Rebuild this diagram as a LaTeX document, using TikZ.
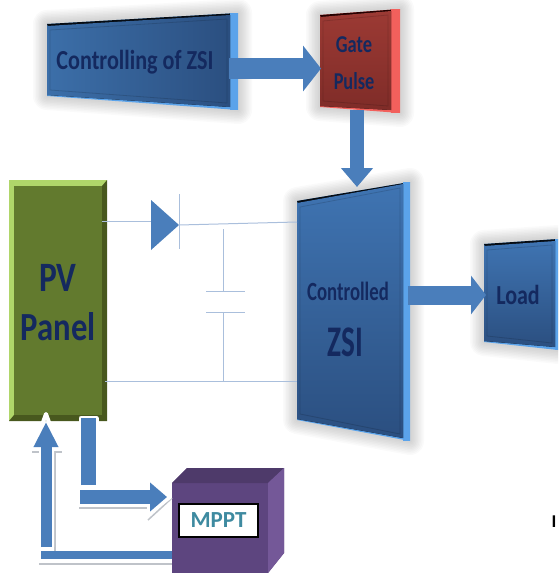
\documentclass[tikz,border=0pt]{standalone}
\usepackage{fontspec}
\usepackage{graphicx}
\setmainfont{Carlito}
\usetikzlibrary{arrows.meta}
\definecolor{navy}{HTML}{14295F}
\definecolor{arrowblue}{HTML}{4A7EBB}
\definecolor{wire}{HTML}{AABFDC}
\definecolor{skyb}{HTML}{5BA3EA}
\definecolor{blueA}{HTML}{3C6FA9}
\definecolor{blueB}{HTML}{2B4F80}
\definecolor{blueC}{HTML}{3F74B2}
\definecolor{haloG}{HTML}{BFC3C9}
\definecolor{gateA}{HTML}{9C3A34}
\definecolor{gateB}{HTML}{7F2C28}
\definecolor{gateL}{HTML}{F2605C}
\tikzset{
  x=1pt,y=-1pt,
  label text/.style={font=\bfseries,text=navy,inner sep=0pt,align=center},
  wireline/.style={draw=wire,line width=1pt},
  fat arrow/.style n args={3}{draw=arrowblue,line width=#1pt,
     -{Triangle[width=#2pt,length=#3pt,fill=arrowblue]}},
  fat bar/.style={draw=arrowblue,line width=#1pt},
}
\newcommand{\lbl}[4]{\scalebox{#2}[#3]{\fontsize{#1}{#1}\selectfont\bfseries #4}}
% name, x1, yTL, yTR, x2, yBL, yBR, right-bevel, unused, then {face}{light}{dark}
\newcommand{\bevelbox}[9]{%
  \def\nm{#1}\def\xa{#2}\def\ya{#3}\def\yb{#4}\def\xb{#5}\def\yc{#6}\def\yd{#7}\def\rb{#8}%
  \bevelboxB}
\newcommand{\bevelboxB}[3]{%
  \foreach \w in {28,25,22,19,16,13,10,7,4}
    \draw[line width=\w pt,black,opacity=.018,line join=round]
      (\xa,\ya)--(\xb,\yb)--(\xb,\yd)--(\xa,\yc)--cycle;
  \fill[#2] (\xa,\ya)--(\xb,\yb)--(\xb,\yd)--(\xa,\yc)--cycle;
  \fill[#3] (\xa,\ya)--(\xb,\yb)--({\xb-\rb},{\yb+3})--(\xa+1,\ya+3)--cycle;
  \fill[#2] ({\xb-\rb},\yb)--(\xb,\yb)--(\xb,\yd)--({\xb-\rb},\yd)--cycle;
  \fill[#1] (\xa,\ya+2)--({\xb-\rb},\yb+2)--({\xb-\rb},{\yd-3})--(\xa,\yc-1)--cycle;
  \draw[black,opacity=.14,line width=.8pt] (\xa+3,\ya+6)--({\xb-\rb-3},\yb+6)--({\xb-\rb-3},{\yd-7})--(\xa+3,\yc-6)--cycle;
  \coordinate (\nm-w) at (\xa,{(\ya+\yc)/2});
  \coordinate (\nm-e) at (\xb,{(\yb+\yd)/2});
}
\begin{document}
\begin{tikzpicture}
\useasboundingbox (0,0) rectangle (558,573);
\clip (0,0) rectangle (558,573);

% blocks
\bevelbox{ctl}{47}{24}{13}{238}{96}{110}{8}{x}{left color=blueA,right color=blueB}{skyb}{black!85!blueB}
\bevelbox{gate}{320}{15}{9}{400}{107}{113}{9}{x}{top color=gateA,bottom color=gateB}{gateL}{black!85!red}
\bevelbox{zsi}{297}{201}{182}{410}{420}{441}{7}{x}{top color=blueC,bottom color=blueB}{skyb}{black!85!blueB}
\bevelbox{load}{484}{244}{239}{558}{342}{350}{3}{x}{top color=blueC,bottom color=blueB}{skyb}{black!85!blueB}

% PV panel
\fill[color={rgb,255:red,176;green,214;blue,106}] (9,180) rectangle (107,421);
\fill[color={rgb,255:red,72;green,88;blue,30}] (102,186)--(107,180)--(107,421)--(9,421)--(14,415)--(102,415)--cycle;
\fill[color={rgb,255:red,98;green,122;blue,46}] (14,186) rectangle (102,415);
\node[label text] (pvA) at (58,278) {\lbl{38}{.88}{1.1}{PV}};
\node[label text] (pvB) at (58,327) {\lbl{38}{.86}{1.05}{Panel}};
\coordinate (pv-a) at (102,221);
\coordinate (pv-b) at (105,381);
\coordinate (pv-out) at (88,418);
\coordinate (pv-in) at (46,422);

% MPPT cube
\fill[color={rgb,255:red,93;green,69;blue,127}] (172,483)--(187,468)--(284,468)--(284,553)--(268,573)--(172,573)--cycle;
\fill[color={rgb,255:red,78;green,58;blue,106}] (172,483)--(187,468)--(284,468)--(268,483)--cycle;
\fill[color={rgb,255:red,116;green,88;blue,152}] (268,483)--(284,468)--(284,553)--(268,573)--cycle;
\node[draw=black,line width=1.2pt,fill=white,minimum width=79pt,minimum height=33pt,inner sep=0pt,
  font=\bfseries\fontsize{23}{23}\selectfont,text={rgb,255:red,62;green,138;blue,160}] (mppt) at (218.5,520.5) {MPPT};
\coordinate (mppt-in) at (167,497);
\coordinate (mppt-out) at (172,555);

% circuit
\coordinate (dA) at (151,221);
\coordinate (dK) at (179,225);
\coordinate (zA) at (297,222);
\coordinate (zB) at (297,381);
\coordinate (capT) at (223,229);
\coordinate (capB) at (223,381);
\coordinate (p1) at (223,291);
\coordinate (p2) at (223,312);
\draw[wireline] (pv-a) -- (dA);
\fill[arrowblue] (151,200) -- (179,225) -- (151,250) -- cycle;
\draw[wireline] (179,194) -- (179,249);
\draw[wireline] (dK) -- (zA);
\draw[wireline] (pv-b) -- (zB);
\draw[wireline] (capT) -- (p1);
\draw[wireline] (p2) -- (capB);
\draw[wireline] (206,291) -- (245,291);
\draw[wireline] (206,312) -- (245,312);

% block arrows
\coordinate (ctl-out) at (229,68.5);
\coordinate (gate-in) at (321,68.5);
\coordinate (gate-out) at (357,110);
\coordinate (zsi-in) at (357,187);
\coordinate (zsi-out) at (408,295);
\coordinate (load-in) at (486,295);
\draw[fat arrow={21}{45}{18}] (ctl-out) -- (gate-in);
\draw[fat arrow={14}{31}{19}] (gate-out) -- (zsi-in);
\draw[fat arrow={19}{38}{15}] (zsi-out) -- (load-in);

% PV / MPPT arrows
\coordinate (e1) at (88,485);
\coordinate (e2) at (80,497);
\coordinate (e3) at (46,547);
\coordinate (e4) at (41,555);
\draw[haloG,line width=1.5pt] (79,508) -- (147,508);
\draw[haloG,line width=1.5pt] (148,520) -- (172,498);
\draw[haloG,line width=1.5pt] (39,564) -- (172,564);
\draw[haloG,line width=1.5pt] (55,452) -- (55,552);
\draw[haloG,line width=1.5pt] (32,452) -- (42,452);
\draw[haloG,line width=1.5pt] (52,452) -- (62,452);
\draw[white,line width=5pt,line cap=round,line join=round] (81,418) -- (96,418) -- (96,485) -- (81,485) -- cycle;
\draw[fat bar=15] (e1) -- (pv-out);
\draw[white,line width=4pt,line join=round] (80,490) -- (149,490) -- (149,481) -- (170,497) -- (149,513) -- (149,504) -- (80,504) -- cycle;
\draw[fat arrow={14}{28}{17}] (e2) -- (mppt-in);
\draw[white,line width=4pt,line join=round] (41,547) -- (41,447) -- (34,447) -- (46,414) -- (58,447) -- (52,447) -- (52,547) -- cycle;
\draw[fat arrow={11}{23}{25}] (e3) -- (pv-in);
\draw[fat bar=8] (e4) -- (mppt-out);

% labels
\node[label text] (ctlT) at (135,62) {\lbl{25}{.886}{1.1}{Controlling of ZSI}};
\node[label text] (gateA) at (354,45) {\lbl{22}{.84}{1.1}{Gate}};
\node[label text] (gateB) at (354,81) {\lbl{22}{.83}{1.1}{Pulse}};
\node[label text] (zsiA) at (348,291) {\lbl{25}{.75}{1.05}{Controlled}};
\node[label text] (zsiB) at (345,342) {\lbl{38}{.77}{1.15}{ZSI}};
\node[label text] (loadT) at (518,295) {\lbl{25}{.88}{1.1}{Load}};
\node[inner sep=0pt,font=\fontsize{18}{18}\selectfont\bfseries] (mark) at (554,522) {I};
\end{tikzpicture}
\end{document}
